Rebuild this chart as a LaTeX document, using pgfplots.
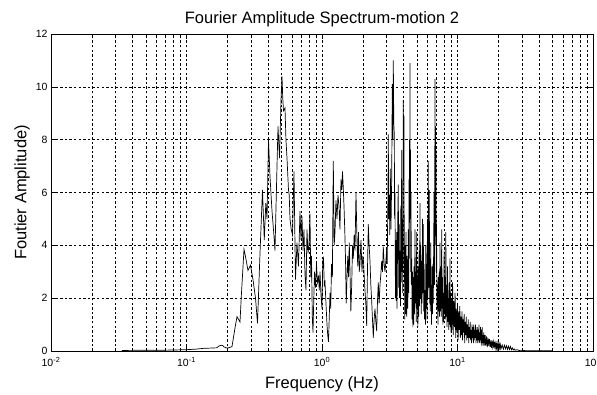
\documentclass[border=0pt]{standalone}
\usepackage{fontspec}
\setmainfont{Liberation Sans}
\usepackage{pgfplots}
\pgfplotsset{compat=1.18}
\begin{document}
\begin{tikzpicture}
\begin{axis}[
  xmode=log, scale only axis, width=542pt, height=317pt,
  xmin=0.01, xmax=100, ymin=0, ymax=12,
  xtick={0.01,0.1,1,10,100},
  xticklabels={10\textsuperscript{-2},10\textsuperscript{-1},10\textsuperscript{0},10\textsuperscript{1},10\textsuperscript{2}},
  minor xtick={0.02,0.03,0.04,0.05,0.06,0.07,0.08,0.09,0.2,0.3,0.4,0.5,0.6,0.7,0.8,0.9,2,3,4,5,6,7,8,9,20,30,40,50,60,70,80,90},
  ytick={0,2,4,6,8,10,12},
  yticklabels={0,2,4,6,8,10,12},
  xmajorgrids, xminorgrids, ymajorgrids,
  major grid style={black, line width=0.4pt, dash pattern=on 2.4pt off 2.2pt},
  minor grid style={black, line width=0.4pt, dash pattern=on 2.4pt off 2.2pt},
  tick align=inside,
  major tick length=5pt, minor tick length=3pt,
  every tick/.style={black, line width=0.4pt},
  axis line style={black, line width=0.5pt},
  title={Fourier Amplitude Spectrum-motion 2},
  xlabel={Frequency (Hz)},
  ylabel={Foutier Amplitude)},
  tick label style={font=\fontsize{10.5}{12}\selectfont},
  xticklabel style={yshift=-3pt},
  label style={font=\fontsize{16.5}{19}\selectfont},
  xlabel style={yshift=-3pt},
  ylabel style={yshift=-1pt},
  title style={font=\fontsize{16.5}{19}\selectfont, yshift=-2pt},
]
\addplot[black, line width=0.7pt] table {
f a
0.0333 0.02
0.05 0.03
0.0667 0.03
0.0833 0.04
0.1 0.05
0.1167 0.07
0.1333 0.1
0.15 0.11
0.1667 0.12
0.175 0.2
0.1833 0.22
0.19 0.15
0.2 0.11
0.21 0.14
0.2167 0.17
0.222 0.5
0.228 0.87
0.2359 1.3
0.2482 1.1
0.2540 2.1
0.2657 3.85
0.2720 3.6
0.2843 3.05
0.2967 3.25
0.3096 2.7
0.3231 2.0
0.3342 1.05
0.3487 3.7
0.3638 6.1
0.3750 4.2
0.3850 5.6
0.3928 5.0
0.4029 8.0
0.4133 6.6
0.4276 5.3
0.4400 4.5
0.4499 3.8
0.4580 5.5
0.4655 7.0
0.4735 8.5
0.4857 7.3
0.4983 9.5
0.5068 10.4
0.5130 9.6
0.5199 9.1
0.5333 9.2
0.5420 8.0
0.5517 7.3
0.5659 6.1
0.5730 5.9
0.5805 5.0
0.5930 4.6
0.6057 4.4
0.6213 6.8
0.6373 2.7
0.6538 4.1
0.6706 3.2
0.6880 5.3
0.7000 4.2
0.7118 5.1
0.7240 3.8
0.7364 4.6
0.7490 2.9
0.7618 2.3
0.7750 4.6
0.7881 3.7
0.8015 4.0
0.8153 5.2
0.8260 2.8
0.8366 3.6
0.8480 1.3
0.8582 0.7
0.8700 2.0
0.8805 3.0
0.8950 2.4
0.9108 3.3
0.9260 2.6
0.9423 2.8
0.9550 2.3
0.9666 3.0
0.9830 2.1
1.0000 1.6
1.0130 3.4
1.0258 3.5
1.0400 2.5
1.0523 2.6
1.0700 1.8
1.0887 1.0
1.1020 0.6
1.1167 0.35
1.1300 1.2
1.1456 2.2
1.1600 1.6
1.1751 3.3
1.1930 2.8
1.2116 7.2
1.2300 4.0
1.2470 4.5
1.2680 5.7
1.2901 5.0
1.3120 5.9
1.3347 5.5
1.3570 4.6
1.3808 6.5
1.4000 6.1
1.4165 6.8
1.4350 6.2
1.4531 5.5
1.4720 4.6
1.4911 3.5
1.5100 1.8
1.5295 2.8
1.5500 3.6
1.5690 2.8
1.5900 4.1
1.6095 3.0
1.6330 1.5
1.6566 2.5
1.6800 4.0
1.7022 3.5
1.7270 4.4
1.7521 3.8
1.7820 6.0
1.8126 4.2
1.8350 3.2
1.8593 4.5
1.8830 3.0
1.9072 3.3
1.9400 4.2
1.9731 3.0
2.0000 3.6
2.0240 3.4
2.0500 2.8
2.0762 2.3
2.1050 1.8
2.1371 0.95
2.1650 3.0
2.1960 4.8
2.2280 4.0
2.2603 3.4
2.2930 2.5
2.3266 1.9
2.3580 1.2
2.3907 0.5
2.4250 1.2
2.4608 1.6
2.4970 1.1
2.5330 0.75
2.5680 1.9
2.6028 2.6
2.6400 1.8
2.6791 2.5
2.7180 2.9
2.7576 3.4
2.7950 3.0
2.8336 3.95
2.8750 3.3
2.9167 3.0
2.9600 3.4
3.0021 3.85
3.0300 3.3
3.0536 5.1
3.0700 6.0
3.0849 8.2
3.1100 5.0
3.1378 5.9
3.1650 4.4
3.1916 6.9
3.2300 4.6
3.2685 6.5
3.3020 10.1
3.3300 8.0
3.3586 11.0
3.3880 8.6
3.4162 8.2
3.4350 5.0
3.4571 6.0
3.484 2.0
3.51 4.2
3.535 1.9
3.5584 4.5
3.58 1.6
3.60 3.2
3.628 5.2
3.6565 6.3
3.683 2.4
3.71 4.8
3.737 2.0
3.764 3.8
3.792 1.7
3.82 5.5
3.847 2.6
3.8743 7.6
3.897 3.0
3.92 5.0
3.95 2.2
3.9811 9.5
4.005 6.5
4.0288 8.9
4.045 3.0
4.06 4.0
4.08 1.2
4.0979 1.7
4.115 4.0
4.13 3.5
4.15 1.4
4.1682 4.5
4.19 2.0
4.2181 1.3
4.245 3.6
4.27 3.0
4.30 1.6
4.3343 4.6
4.36 2.2
4.39 6.5
4.41 3.5
4.43 8.0
4.445 5.0
4.4613 10.9
4.48 5.5
4.50 7.6
4.52 3.0
4.5378 6.0
4.5650 2.5
4.5920 3.5
4.62 1.2
4.65 3.0
4.685 0.9
4.7183 2.8
4.75 1.0
4.78 3.2
4.82 1.4
4.8567 4.6
4.89 1.8
4.92 3.0
4.96 1.1
4.9992 4.5
5.035 1.6
5.07 2.8
5.10 0.9
5.137 3.2
5.17 1.3
5.21 3.8
5.25 1.7
5.2876 5.6
5.32 2.0
5.36 4.0
5.40 1.4
5.4426 3.4
5.48 1.8
5.52 5.0
5.555 2.2
5.5926 4.8
5.63 1.5
5.67 3.3
5.71 1.2
5.7566 2.3
5.80 1.0
5.84 4.0
5.88 1.6
5.9254 3.3
5.96 1.2
6.00 5.0
6.045 2.0
6.0887 7.2
6.11 3.0
6.14 5.0
6.165 2.4
6.1931 6.1
6.23 1.8
6.27 3.5
6.305 1.5
6.3421 4.1
6.37 2.0
6.40 2.5
6.425 1.0
6.4508 1.7
6.495 3.2
6.54 1.4
6.585 3.3
6.6286 1.8
6.675 4.2
6.72 6.0
6.77 2.5
6.823 10.3
6.85 5.0
6.88 8.5
6.91 4.0
6.94 7.6
6.96 3.0
6.98 5.0
7.0231 3.7
7.07 1.6
7.12 2.5
7.17 1.0
7.2167 2.8
7.27 1.5
7.32 3.0
7.375 1.3
7.4284 4.1
7.48 1.5
7.53 3.2
7.59 1.3
7.6463 4.6
7.70 1.6
7.75 2.8
7.80 1.0
7.8571 2.2
7.91 1.1
7.97 3.8
8.03 1.4
8.0874 2.8
8.14 1.2
8.20 4.5
8.26 1.3
8.3247 2.5
8.38 0.9
8.44 3.2
8.50 1.1
8.5541 2.0
8.62 0.8
8.68 2.6
8.74 1.0
8.8049 3.5
8.85 0.9
8.90 2.2
8.95 0.7
9.0 2.0
9.1 0.8
9.2 2.6
9.3 0.6
9.4 1.9
9.5 0.9
9.6 2.2
9.7 0.5
9.8 1.6
9.9 0.7
10.0 1.8
10.1 0.4
10.2 1.5
10.3 0.8
10.4 1.7
10.5 0.5
10.6 1.3
10.7 0.6
10.8 1.5
10.9 0.4
11.0 1.2
11.1 0.7
11.2 1.4
11.3 0.3
11.4 1.1
11.5 0.6
11.6 1.3
11.7 0.4
11.8 1.0
11.9 0.5
12.0 1.2
12.1 0.3
12.2 0.9
12.3 0.5
12.4 1.1
12.5 0.4
12.6 0.8
12.7 0.3
12.8 1.0
12.9 0.5
13.0 0.9
13.1 0.3
13.2 1.0
13.3 0.4
13.4 0.8
13.5 0.5
13.6 1.0
13.7 0.3
13.8 0.8
13.9 0.4
14.0 0.9
14.1 0.3
14.2 0.8
14.3 0.4
14.4 1.0
14.5 0.3
14.6 0.7
14.7 0.4
14.8 0.9
14.9 0.3
15.0 0.8
15.1 0.2
15.2 0.9
15.3 0.3
15.4 0.6
15.5 0.2
15.6 0.7
15.7 0.3
15.8 0.6
15.9 0.2
16.0 0.6
16.2 0.2
16.4 0.55
16.6 0.15
16.8 0.5
17.0 0.2
17.2 0.45
17.4 0.15
17.6 0.4
17.8 0.12
18.0 0.4
18.2 0.15
18.4 0.35
18.6 0.1
18.8 0.35
19.0 0.12
19.2 0.3
19.4 0.1
19.6 0.3
19.8 0.08
20.0 0.28
20.2 0.1
20.4 0.25
20.6 0.08
20.8 0.24
21.0 0.1
21.4 0.22
21.8 0.07
22.2 0.22
22.6 0.08
23.0 0.2
23.4 0.06
23.8 0.18
24.2 0.06
24.6 0.17
25.0 0.05
25.4 0.12
25.8 0.04
26.2 0.08
26.6 0.03
27.5 0.05
28.5 0.02
30 0.03
32 0.01
35 0.01
40 0.01
45 0.01
50 0.01
};
\end{axis}
\pgfresetboundingbox
\path[use as bounding box] ([xshift=-51pt,yshift=-43pt]current axis.south west) rectangle ([xshift=4pt,yshift=34pt]current axis.north east);
\end{tikzpicture}
\end{document}
